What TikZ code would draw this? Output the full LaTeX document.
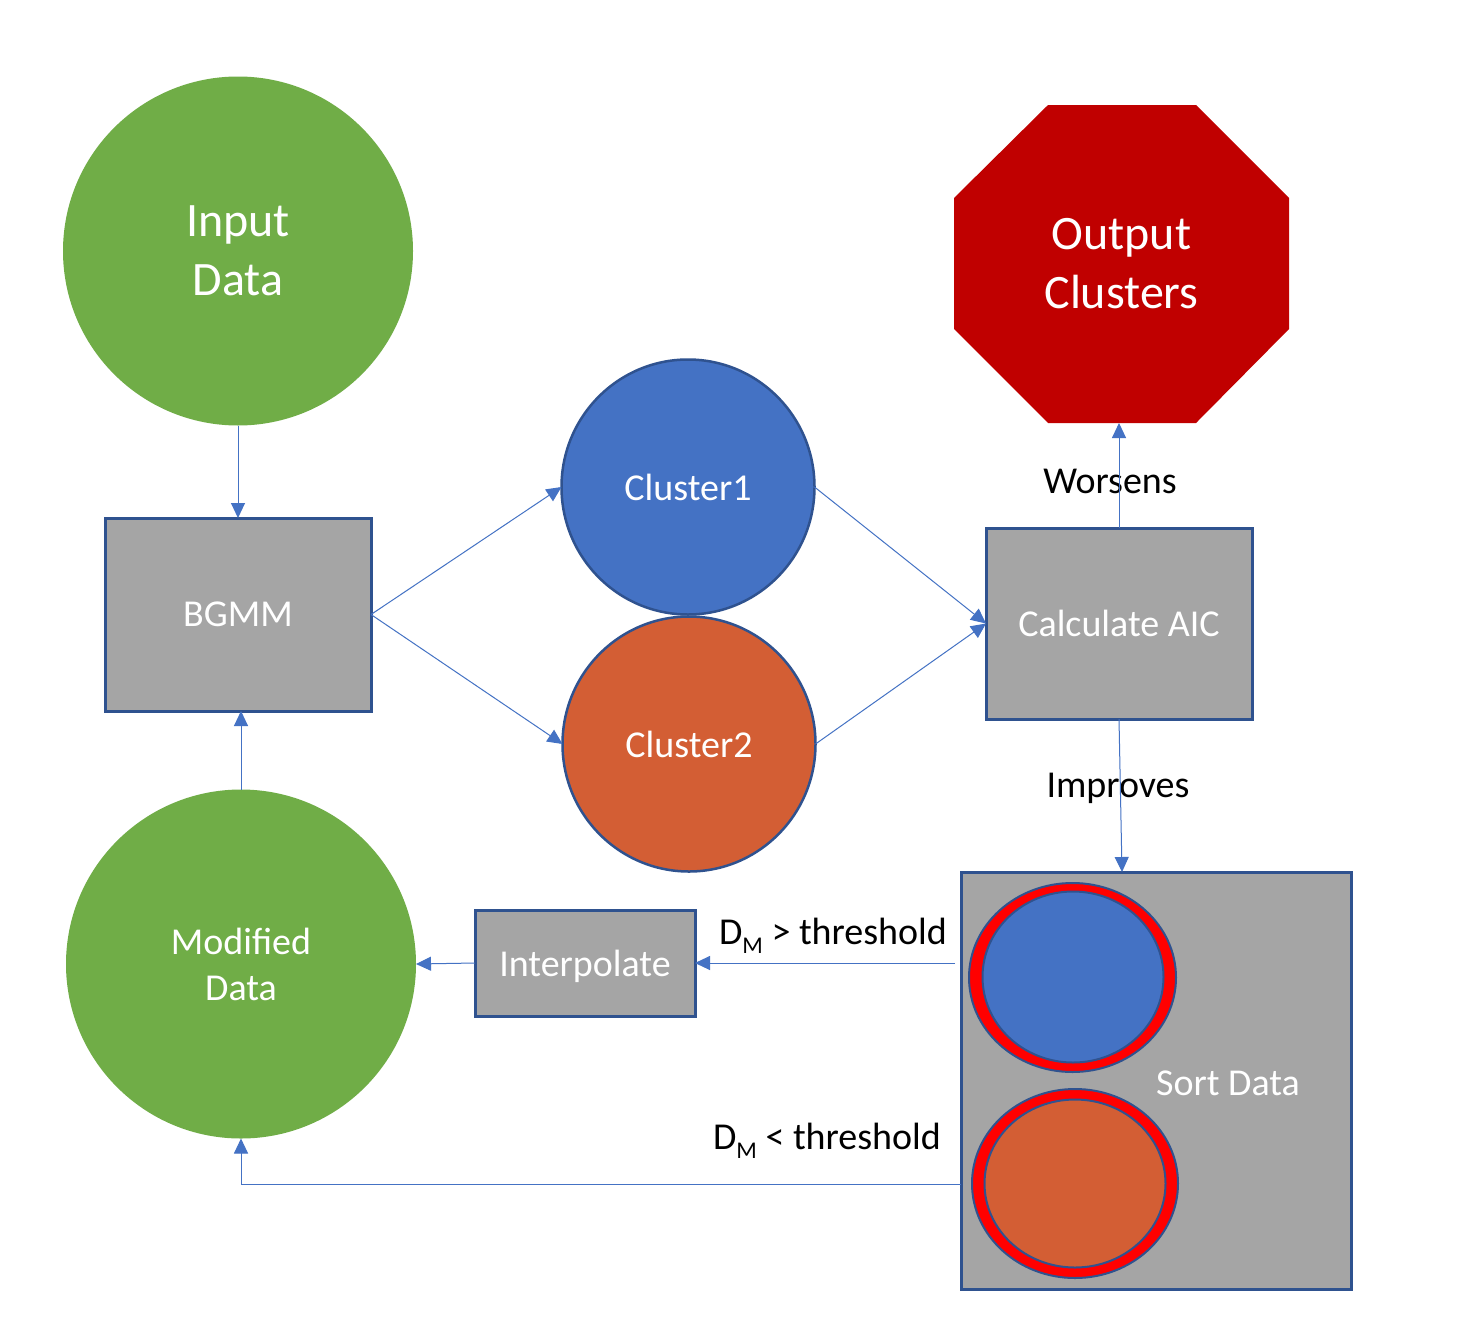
\documentclass[tikz,border=0pt]{standalone}
\usepackage{fontspec}
\setmainfont{Carlito}
\usetikzlibrary{shapes.geometric,arrows.meta,calc}
\definecolor{cgreen}{HTML}{70AD47}
\definecolor{cblue}{HTML}{4472C4}
\definecolor{corange}{HTML}{D35E34}
\definecolor{cgray}{HTML}{A5A5A5}
\definecolor{cdark}{HTML}{2F528F}
\definecolor{cred}{HTML}{C00000}
\definecolor{cring}{HTML}{FF0000}
\newcommand{\dsub}[1]{\raisebox{-9pt}{\fontsize{24}{24}\selectfont #1}}
\begin{document}
\begin{tikzpicture}[x=1pt,y=-1pt,
  every node/.style={inner sep=0pt, outer sep=0pt},
  bigtxt/.style={font=\fontsize{48}{59}\selectfont, text=white, align=center},
  midtxt/.style={font=\fontsize{38}{46}\selectfont, text=white, align=center},
  lbl/.style={font=\fontsize{38}{46}\selectfont, text=black},
  greenell/.style={ellipse, fill=cgreen, minimum width=350pt, minimum height=349pt},
  graybox/.style={rectangle, fill=cgray, draw=cdark, line width=3pt},
  clus/.style={ellipse, draw=cdark, line width=2.5pt, minimum width=253pt, minimum height=255pt},
  ringell/.style={ellipse, fill=cring, draw=cdark, line width=2pt},
  innerell/.style={ellipse, draw=cdark, line width=2pt},
  conn/.style={draw=cblue, line width=1pt, -{Triangle[length=15pt,width=14pt]}},
]
\useasboundingbox (0,0) rectangle (1471,1338);
\fill[white] (0,0) rectangle (1471,1338);

% nodes
\node[greenell, bigtxt] (in) at (238,251) {Input\\Data};
\fill[cred] (1048,105) -- (1196,105) -- (1289,198) -- (1289,329) -- (1196,423) -- (1048,423) -- (954,329) -- (954,198) -- cycle;
\node[rectangle, minimum width=335pt, minimum height=318pt, bigtxt] (out) at (1121.5,264) {Output\\Clusters};
\node[graybox, minimum width=266pt, minimum height=193pt, midtxt] (bgmm) at (238,614.5) {BGMM};
\node[clus, fill=cblue, midtxt] (c1) at (688,487) {Cluster1};
\node[clus, fill=corange, midtxt] (c2) at (689,744) {Cluster2};
\node[graybox, minimum width=266pt, minimum height=191pt, midtxt] (aic) at (1119,623.5) {Calculate AIC};
\node[greenell, midtxt] (mod) at (241,964) {Modified\\Data};
\node[graybox, minimum width=220pt, minimum height=106pt, midtxt, text depth=0pt] (interp) at (585,963) {Interpolate};
\node[graybox, minimum width=390pt, minimum height=417pt] (sort) at (1156,1080.5) {};
\node[ringell, minimum width=207pt, minimum height=189pt] (r1) at (1072.5,977.5) {};
\node[innerell, fill=cblue, minimum width=181pt, minimum height=171pt] (b1) at (1073,977) {};
\node[ringell, minimum width=206pt, minimum height=189pt] (r2) at (1075,1183.5) {};
\node[innerell, fill=corange, minimum width=181pt, minimum height=168pt] (b2) at (1075,1183.5) {};
\node[midtxt] (sortlbl) at (1228,1083) {Sort Data};

% labels
\node[lbl] (wors) at (1110,481) {Worsens};
\node[lbl, anchor=base] (impr) at (1118,797) {Improves};
\node[lbl, anchor=base west] (dgt) at (719,944) {D\dsub{M} > threshold};
\node[lbl, anchor=base west] (dlt) at (713,1149) {D\dsub{M} < threshold};

% connectors
\coordinate (sorttop) at (1122,872);
\coordinate (sortA) at (955,963);
\coordinate (sortB) at (961,1184);
\draw[conn] (in.south) -- (bgmm.north);
\draw[conn] (bgmm.east) -- (c1.west);
\draw[conn] (bgmm.east) -- (c2.west);
\draw[conn] (c1.east) -- (aic.west);
\draw[conn] (c2.east) -- (aic.west);
\draw[conn] (aic.north) -- (aic.north |- out.south);
\draw[conn] (aic.south) -- (sorttop);
\draw[conn] (sortA) -- (interp.east);
\draw[conn] (interp.west) -- (mod.east);
\draw[conn] (sortB) -| (mod.south);
\draw[conn] (mod.north) -- (mod.north |- bgmm.south);
\end{tikzpicture}
\end{document}
